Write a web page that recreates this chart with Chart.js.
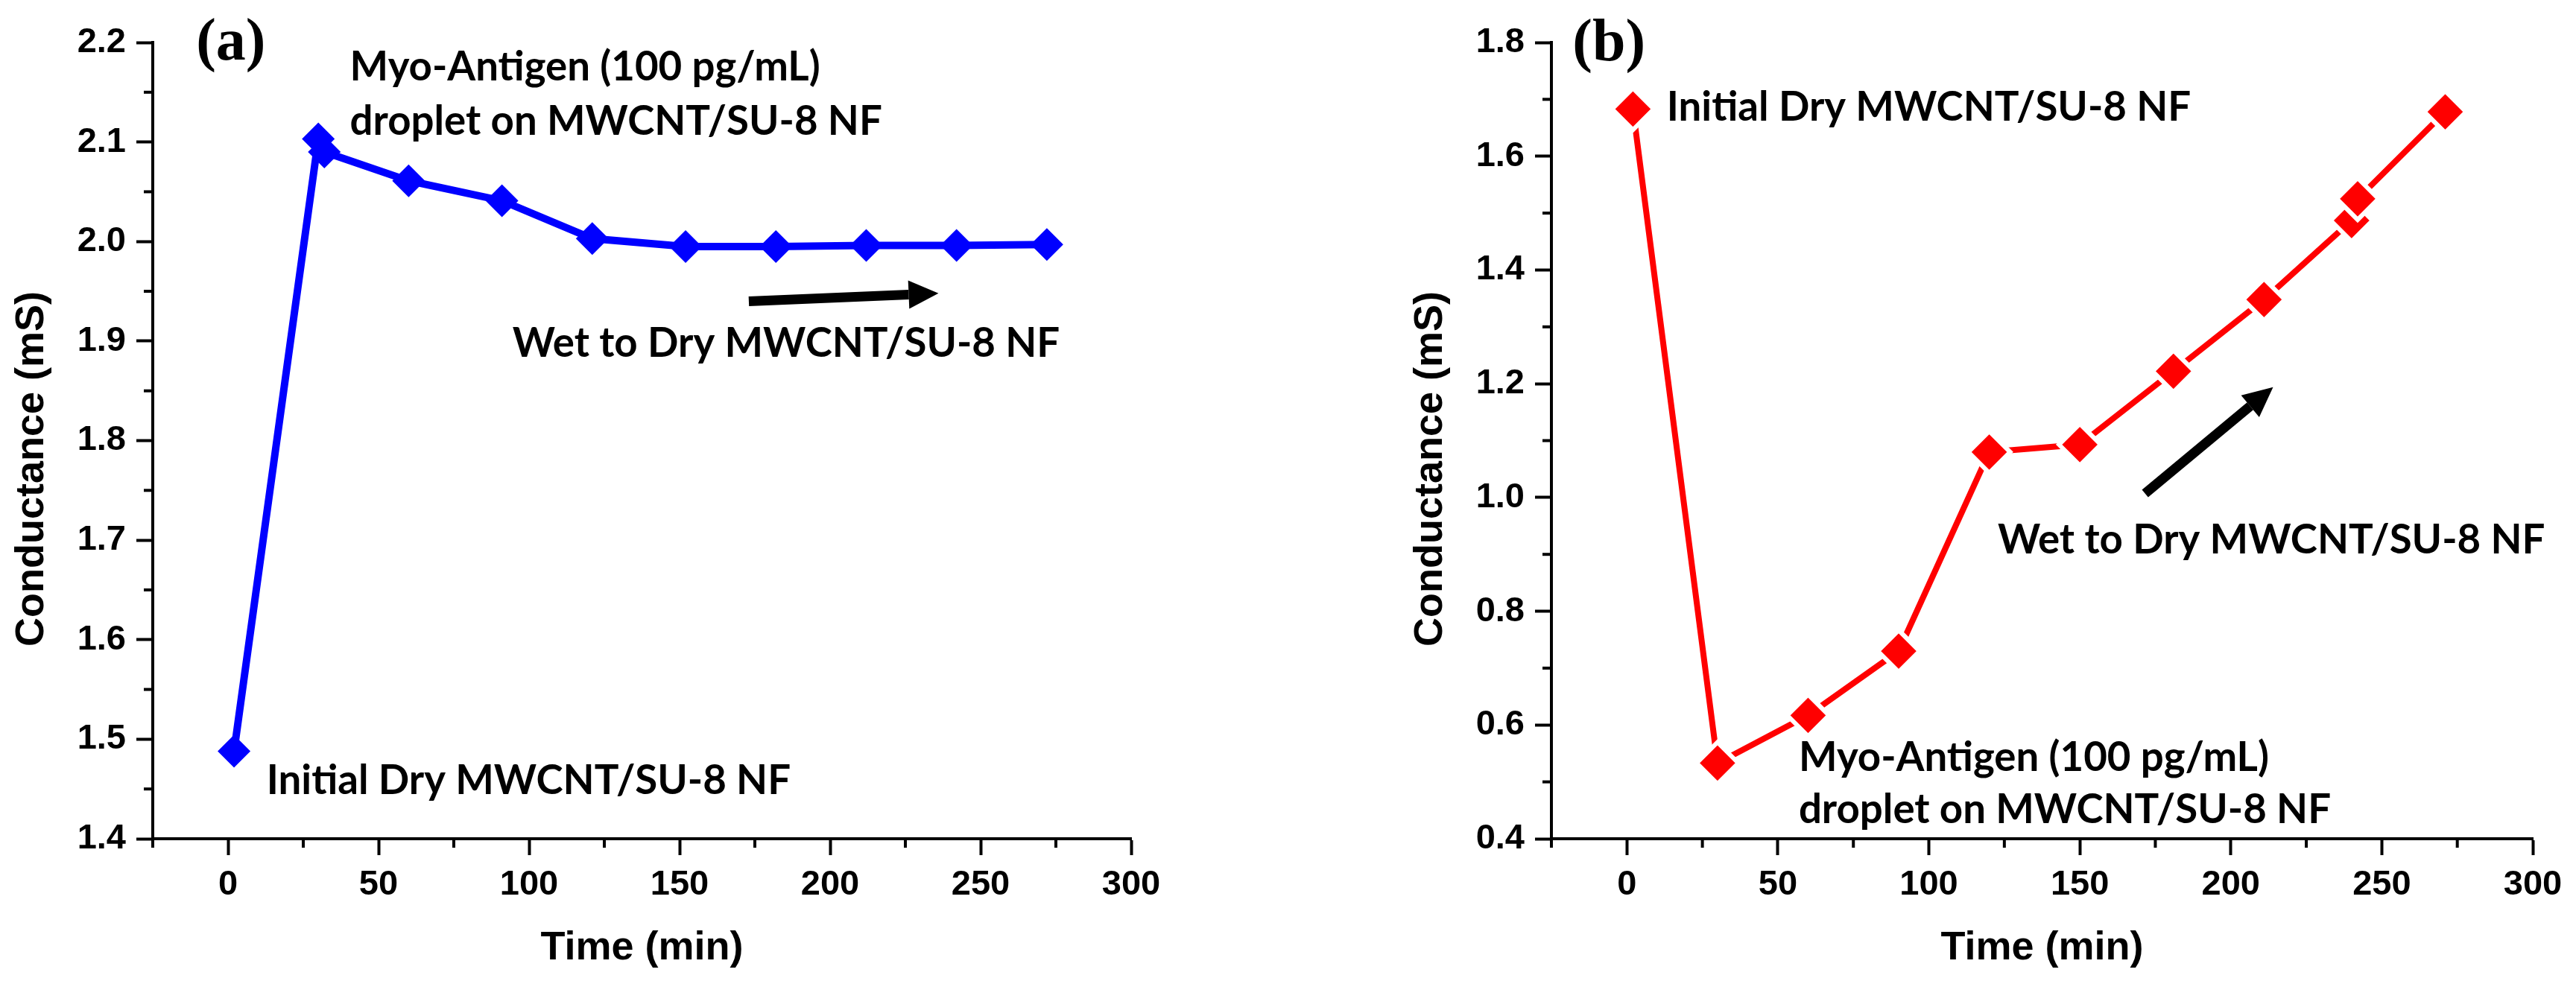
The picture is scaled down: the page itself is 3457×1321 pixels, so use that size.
<!DOCTYPE html>
<html>
<head>
<meta charset="utf-8">
<title>Conductance vs time</title>
<script src="https://cdn.jsdelivr.net/npm/chart.js@4.4.1/dist/chart.umd.min.js"></script>
<style>
  html, body { margin: 0; padding: 0; background: #fff; }
  #wrap { position: relative; width: 3457px; height: 1321px; }
  .panel { position: absolute; top: 0; height: 1321px; }
  #panel-a { left: 0; width: 1728px; }
  #panel-b { left: 1728px; width: 1729px; }
</style>
</head>
<body>
<div id="wrap">
  <div class="panel" id="panel-a"><canvas id="chart-a"></canvas></div>
  <div class="panel" id="panel-b"><canvas id="chart-b"></canvas></div>
</div>
<script>
// data
const timeA = [2, 30, 32, 60, 91, 121, 152, 182, 212, 242, 272];
const condA = [1.488, 2.103, 2.090, 2.061, 2.041, 2.003, 1.995, 1.995, 1.996, 1.996, 1.997];
const timeB = [2, 30, 60, 90, 120, 150, 181, 211, 240, 242, 271];
const condB = [1.683, 0.533, 0.617, 0.730, 1.080, 1.093, 1.222, 1.348, 1.487, 1.525, 1.678];

const timeTicks = [0, 50, 100, 150, 200, 250, 300];
const timeMinor = [-25, 25, 75, 125, 175, 225, 275];
const ticksA = [1.4, 1.5, 1.6, 1.7, 1.8, 1.9, 2.0, 2.1, 2.2];
const minorA = [1.45, 1.55, 1.65, 1.75, 1.85, 1.95, 2.05, 2.15];
const ticksB = [0.4, 0.6, 0.8, 1.0, 1.2, 1.4, 1.6, 1.8];
const minorB = [0.5, 0.7, 0.9, 1.1, 1.3, 1.5, 1.7];

const xTitle = "Time (min)";
const yTitle = "Conductance (mS)";

Chart.defaults.font.family = "'Liberation Sans', Arial, sans-serif";
Chart.defaults.color = "#000";

const noteFont = "Lato, 'Open Sans', sans-serif";
let noteSize = null;

// minor ticks, y title, arrows and text notes, placed through the chart scales
const decorations = {
    id: "decorations",
    afterDraw(chart, args, opts) {
        const ctx = chart.ctx;
        const xs = chart.scales.x, ys = chart.scales.y;
        const area = chart.chartArea;
        ctx.save();
        ctx.strokeStyle = "#000";
        ctx.lineWidth = 4;
        opts.minorX.forEach(function (v) {
            const px = xs.getPixelForValue(v);
            ctx.beginPath();
            ctx.moveTo(px, area.bottom);
            ctx.lineTo(px, area.bottom + 12);
            ctx.stroke();
        });
        opts.minorY.forEach(function (v) {
            const py = ys.getPixelForValue(v);
            ctx.beginPath();
            ctx.moveTo(area.left, py);
            ctx.lineTo(area.left - 12, py);
            ctx.stroke();
        });

        // y axis title, sits a little below the middle as in the original
        ctx.save();
        ctx.translate(area.left - 162, (area.top + area.bottom) / 2 + 38);
        ctx.rotate(-Math.PI / 2);
        ctx.font = "bold 54px 'Liberation Sans', Arial, sans-serif";
        ctx.fillStyle = "#000";
        ctx.textAlign = "center";
        ctx.textBaseline = "middle";
        ctx.fillText(yTitle, 0, 0);
        ctx.restore();

        // arrow
        const a = opts.arrow;
        const x1 = xs.getPixelForValue(a.from[0]), y1 = ys.getPixelForValue(a.from[1]);
        const x2 = xs.getPixelForValue(a.to[0]), y2 = ys.getPixelForValue(a.to[1]);
        const ang = Math.atan2(y2 - y1, x2 - x1);
        const head = 40, half = 19;
        const bx = x2 - head * Math.cos(ang), by = y2 - head * Math.sin(ang);
        ctx.lineWidth = 13;
        ctx.beginPath();
        ctx.moveTo(x1, y1);
        ctx.lineTo(bx, by);
        ctx.stroke();
        ctx.fillStyle = "#000";
        ctx.beginPath();
        ctx.moveTo(x2, y2);
        ctx.lineTo(bx + half * Math.sin(ang), by - half * Math.cos(ang));
        ctx.lineTo(bx - half * Math.sin(ang), by + half * Math.cos(ang));
        ctx.closePath();
        ctx.fill();

        // notes
        if (noteSize === null) {
            ctx.font = "bold 100px " + noteFont;
            noteSize = 100 * 734 / ctx.measureText("Wet to Dry MWCNT/SU-8 NF").width;
        }
        ctx.textAlign = "left";
        ctx.textBaseline = "alphabetic";
        ctx.font = "bold " + noteSize.toFixed(1) + "px " + noteFont;
        opts.notes.forEach(function (n) {
            ctx.fillText(n.text, xs.getPixelForValue(n.x), ys.getPixelForValue(n.y));
        });

        // panel letter
        ctx.font = "bold 80px 'Liberation Serif', 'Times New Roman', serif";
        ctx.fillText(opts.letter.text, xs.getPixelForValue(opts.letter.x), ys.getPixelForValue(opts.letter.y));
        ctx.restore();
    }
};

function makeChart(canvasId, times, values, cfg) {
    const points = times.map(function (t, i) { return { x: t, y: values[i] }; });
    return new Chart(document.getElementById(canvasId), {
        type: "line",
        data: {
            datasets: [{
                data: points,
                borderColor: cfg.color,
                backgroundColor: cfg.color,
                borderWidth: cfg.lineWidth,
                pointStyle: "rectRot",
                pointRadius: cfg.pointRadius,
                pointBackgroundColor: cfg.color,
                pointBorderColor: cfg.pointBorder,
                pointBorderWidth: cfg.pointBorderWidth,
                tension: 0,
                clip: false
            }]
        },
        options: {
            responsive: true,
            maintainAspectRatio: false,
            animation: false,
            events: [],
            layout: { padding: cfg.padding },
            plugins: {
                legend: { display: false },
                tooltip: { enabled: false },
                decorations: {
                    minorX: timeMinor,
                    minorY: cfg.minorY,
                    arrow: cfg.arrow,
                    notes: cfg.notes,
                    letter: cfg.letter
                }
            },
            scales: {
                x: {
                    type: "linear",
                    min: -25,
                    max: 300,
                    afterBuildTicks: function (axis) {
                        axis.ticks = timeTicks.map(function (v) { return { value: v }; });
                    },
                    afterFit: function (axis) {
                        axis.height = 195;
                        axis.paddingLeft = 0;
                        axis.paddingRight = 0;
                    },
                    ticks: {
                        font: { size: 47, weight: "bold" },
                        padding: 12,
                        maxRotation: 0,
                        callback: function (v) { return String(v); }
                    },
                    grid: {
                        display: true,
                        drawOnChartArea: false,
                        drawTicks: true,
                        tickLength: 22,
                        tickWidth: 4,
                        tickColor: "#000"
                    },
                    border: { display: true, color: "#000", width: 4 },
                    title: {
                        display: true,
                        text: xTitle,
                        font: { size: 54, weight: "bold", lineHeight: 1.2 },
                        padding: { top: 0, bottom: 15 }
                    }
                },
                y: {
                    min: cfg.yMin,
                    max: cfg.yMax,
                    afterBuildTicks: function (axis) {
                        axis.ticks = cfg.yTicks.map(function (v) { return { value: v }; });
                    },
                    afterFit: function (axis) {
                        axis.width = 205;
                        axis.paddingTop = 0;
                        axis.paddingBottom = 0;
                    },
                    ticks: {
                        font: { size: 47, weight: "bold" },
                        padding: 14,
                        callback: function (v) { return Number(v).toFixed(1); }
                    },
                    grid: {
                        display: true,
                        drawOnChartArea: false,
                        drawTicks: true,
                        tickLength: 22,
                        tickWidth: 4,
                        tickColor: "#000"
                    },
                    border: { display: true, color: "#000", width: 4 },
                    title: { display: false }
                }
            }
        },
        plugins: [decorations]
    });
}

makeChart("chart-a", timeA, condA, {
    color: "#0000ff",
    lineWidth: 10,
    pointRadius: 22,
    pointBorder: "#0000ff",
    pointBorderWidth: 0,
    yMin: 1.4,
    yMax: 2.2,
    yTicks: ticksA,
    minorY: minorA,
    padding: { left: 0, right: 210, top: 57, bottom: 0 },
    arrow: { from: [173, 1.940], to: [236, 1.948] },
    letter: { text: "(a)", x: -10.6, y: 2.1825 },
    notes: [
        { text: "Myo-Antigen (100 pg/mL)", x: 40.5, y: 2.162 },
        { text: "droplet on MWCNT/SU-8 NF", x: 40.5, y: 2.107 },
        { text: "Wet to Dry MWCNT/SU-8 NF", x: 94.5, y: 1.884 },
        { text: "Initial Dry MWCNT/SU-8 NF", x: 12.8, y: 1.445 }
    ]
});

makeChart("chart-b", timeB, condB, {
    color: "#ff0000",
    lineWidth: 8,
    pointRadius: 28,
    pointBorder: "#ffffff",
    pointBorderWidth: 6,
    yMin: 0.4,
    yMax: 1.8,
    yTicks: ticksB,
    minorY: minorB,
    padding: { left: 149, right: 58, top: 57, bottom: 0 },
    arrow: { from: [171.6, 1.007], to: [214, 1.194] },
    letter: { text: "(b)", x: -18, y: 1.769 },
    notes: [
        { text: "Initial Dry MWCNT/SU-8 NF", x: 13.2, y: 1.662 },
        { text: "Wet to Dry MWCNT/SU-8 NF", x: 122.8, y: 0.902 },
        { text: "Myo-Antigen (100 pg/mL)", x: 56.9, y: 0.519 },
        { text: "droplet on MWCNT/SU-8 NF", x: 56.9, y: 0.427 }
    ]
});
</script>
</body>
</html>
